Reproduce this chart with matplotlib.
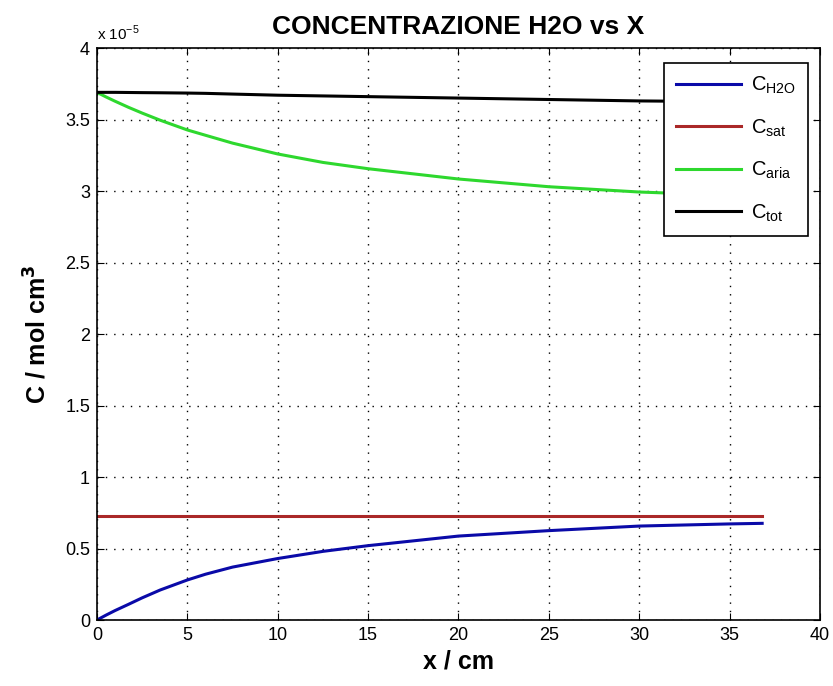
import numpy as np
import matplotlib.pyplot as plt
from matplotlib.ticker import FuncFormatter, MultipleLocator

plt.rcParams['font.family'] = ['Liberation Sans', 'DejaVu Sans']

# values (mol/cm^3, in units of 1e-5)
x = [0, 0.5, 1, 1.75, 2.5, 3.5, 5, 6, 7.5, 10, 12.5, 15, 20, 25, 30, 35, 36.8]
c_h2o = [0.0, 0.034, 0.066, 0.11, 0.155, 0.21, 0.28, 0.32, 0.37, 0.43, 0.48, 0.52,
         0.587, 0.625, 0.657, 0.672, 0.676]
c_aria = [3.69, 3.658, 3.628, 3.585, 3.545, 3.495, 3.427, 3.39, 3.335, 3.259, 3.2, 3.156,
          3.084, 3.03, 2.993, 2.97, 2.965]
c_tot = [3.69, 3.69, 3.69, 3.689, 3.688, 3.687, 3.685, 3.683, 3.678, 3.67, 3.665, 3.66,
         3.65, 3.64, 3.63, 3.625, 3.62]
c_sat = [0.727] * len(x)

scale = 1e-5
x = np.array(x)

fig = plt.figure(figsize=(8.33, 6.86), dpi=100)
ax = fig.add_axes([0.1164, 0.0962, 0.8680, 0.8338])

ax.plot(x, np.array(c_h2o) * scale, color='#0a0aa8', lw=2.2, label=r'C$_{\mathregular{H2O}}$')
ax.plot(x, np.array(c_sat) * scale, color='#aa2828', lw=2.2, label=r'C$_{\mathregular{sat}}$')
ax.plot(x, np.array(c_aria) * scale, color='#2ed82e', lw=2.2, label=r'C$_{\mathregular{aria}}$')
ax.plot(x, np.array(c_tot) * scale, color='black', lw=2.2, label=r'C$_{\mathregular{tot}}$')

ax.set_xlim(0, 40)
ax.set_ylim(0, 4e-5)
ax.xaxis.set_major_locator(MultipleLocator(5))
ax.yaxis.set_major_locator(MultipleLocator(0.5e-5))
ax.yaxis.set_major_formatter(FuncFormatter(lambda v, _: f'{v / scale:g}'))
ax.tick_params(direction='in', top=True, right=True, labelsize=13, length=5, pad=5)
ax.grid(True, color='black', linestyle=(0, (1, 5)), linewidth=1)
for s in ax.spines.values():
    s.set_linewidth(1.2)

ax.text(0.0, 1.008, r'x 10$^{\mathregular{-5}}$', transform=ax.transAxes, fontsize=11,
        ha='left', va='bottom')

ax.set_title('CONCENTRAZIONE H2O vs X', fontsize=19, fontweight='bold', pad=10)
ax.set_xlabel('x / cm', fontsize=18, fontweight='bold', labelpad=4)
ax.set_ylabel(r'C / mol cm$^{\mathbf{3}}$', fontsize=18, fontweight='bold', labelpad=10)

leg = ax.legend(loc='upper right', bbox_to_anchor=(0.983, 0.974), borderaxespad=0,
                fontsize=14.5, fancybox=False, edgecolor='black', framealpha=1,
                labelspacing=1.05, handlelength=3.2, borderpad=0.6, handletextpad=0.5)
leg.get_frame().set_linewidth(1.2)

fig.savefig('out.png', dpi=100)
